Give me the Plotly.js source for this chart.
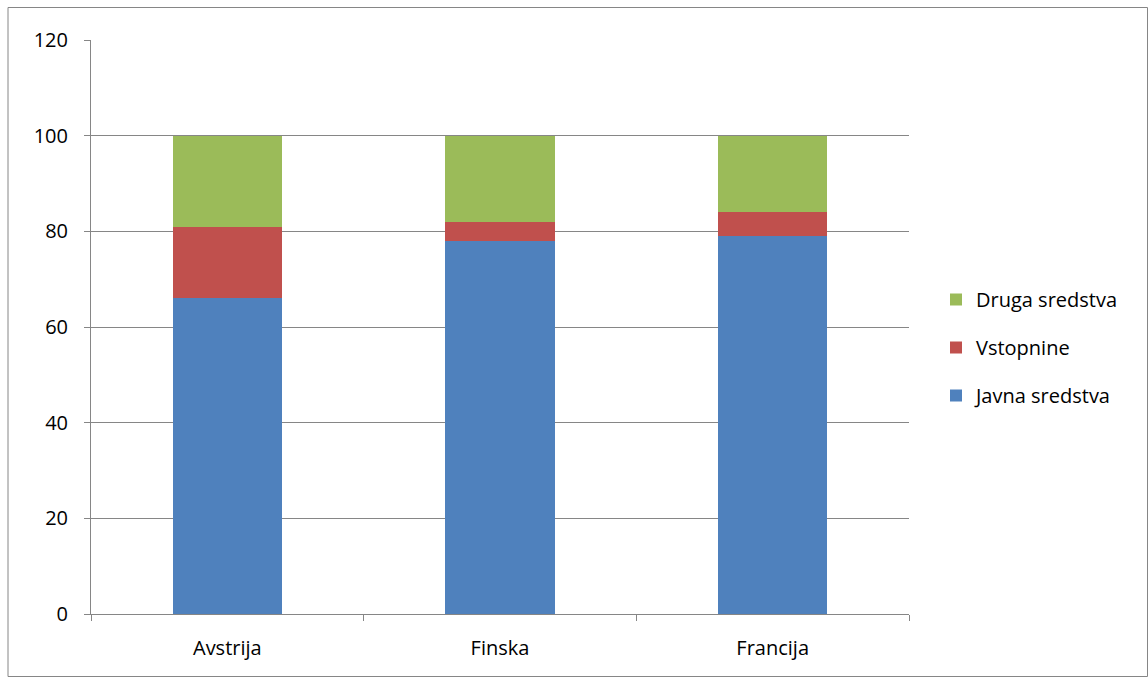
<!DOCTYPE html>
<html><head><meta charset="utf-8">
<script src="https://cdn.plot.ly/plotly-3.0.1.min.js"></script>
<style>html,body{margin:0;padding:0;background:#fff}#chart{width:1148px;height:677px}</style>
</head><body><div id="chart"></div>
<script>
const categories = ["Avstrija", "Finska", "Francija"];
const javnaSredstva = [66, 78, 79];
const vstopnine = [15, 4, 5];
const drugaSredstva = [19, 18, 16];
const seriesNames = ["Javna sredstva", "Vstopnine", "Druga sredstva"];
const yTicks = [0, 20, 40, 60, 80, 100, 120];

const colors = ["#4F81BD", "#C0504D", "#9BBB59"];
const vals = [javnaSredstva, vstopnine, drugaSredstva];
const traces = vals.map((v, i) => ({
  type: "bar", x: categories, y: v, name: seriesNames[i],
  legendgroup: "g" + i, legendrank: 10 - i,
  marker: {color: colors[i], line: {width: 0}}, width: 0.4
}));

const L = 91, R = 909, T = 40, B = 614, W = 1148, H = 677;
const pw = R - L, ph = B - T;
const layout = {
  width: W, height: H,
  margin: {l: L, r: W - R, t: T, b: H - B, pad: 0},
  barmode: "stack",
  paper_bgcolor: "#fff", plot_bgcolor: "#fff",
  font: {family: "Open Sans, Noto Sans, sans-serif", size: 20, color: "#000"},
  showlegend: true,
  legend: {x: (936 - L) / pw, y: 1 - (280 - T) / ph, xanchor: "left", yanchor: "top",
    traceorder: "grouped", tracegroupgap: 19, font: {size: 20},
    bgcolor: "rgba(0,0,0,0)"},
  xaxis: {showgrid: false, showline: true, linecolor: "#868686", linewidth: 1,
    ticks: "outside", tickson: "boundaries", ticklen: 6, tickcolor: "#868686",
    tickfont: {size: 20}, zeroline: false, ticklabelstandoff: 16},
  yaxis: {range: [0, 120], tickvals: yTicks, ticktext: yTicks.map(String),
    showgrid: true, gridcolor: "#868686", gridwidth: 1, showline: true,
    linecolor: "#868686", ticks: "outside", ticklen: 6, tickcolor: "#868686",
    tickfont: {size: 20}, zeroline: false, ticklabelstandoff: 12},
  shapes: [{type: "rect", xref: "paper", yref: "paper",
    x0: (8 - L) / pw, x1: (1147.5 - L) / pw,
    y0: 1 + (T - 676.5) / ph, y1: 1 + (T - 7.5) / ph,
    line: {color: "#868686", width: 1}, fillcolor: "rgba(0,0,0,0)", layer: "below"}]
};
Plotly.newPlot("chart", traces, layout, {displayModeBar: false, staticPlot: true});
</script></body></html>
